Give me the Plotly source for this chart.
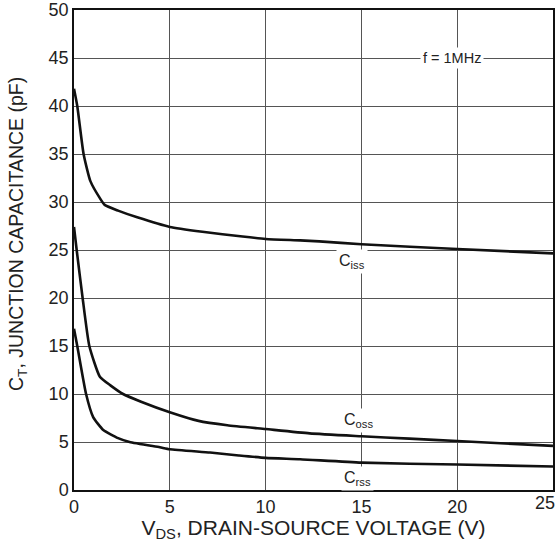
import plotly.graph_objects as go

# Data
vds_iss = [0, 0.17, 0.5, 0.85, 1.35, 1.6, 2.3, 3.3, 5, 6.7, 8.8, 10, 11.8, 12.8, 15, 20, 25]
c_iss = [41.8, 40, 35, 32.2, 30.4, 29.7, 29.1, 28.4, 27.4, 26.9, 26.4, 26.15, 26.0, 25.9, 25.6, 25.1, 24.65]

vds_oss = [0, 0.14, 0.45, 0.8, 1.35, 1.9, 2.56, 3.5, 5, 6.5, 8, 10, 12.3, 15, 17.5, 20, 25]
c_oss = [27.4, 25, 20, 15, 11.8, 10.9, 10, 9.2, 8.1, 7.2, 6.75, 6.35, 5.9, 5.6, 5.35, 5.1, 4.6]

vds_rss = [0, 0.17, 0.63, 1.0, 1.53, 2.3, 2.9, 4.48, 5, 7.1, 8.6, 10, 11.8, 15, 20, 25]
c_rss = [16.8, 15, 10, 7.6, 6.25, 5.4, 5.0, 4.45, 4.25, 3.9, 3.6, 3.35, 3.2, 2.85, 2.65, 2.45]

x_ticks = [0, 5, 10, 15, 20, 25]
y_ticks = [0, 5, 10, 15, 20, 25, 30, 35, 40, 45, 50]

labels = ["C<sub>iss</sub>", "C<sub>oss</sub>", "C<sub>rss</sub>", "f = 1MHz"]
label_x = [14.5, 14.85, 14.8, 19.75]
label_y = [23.85, 7.2, 1.15, 45.0]

x_title = "V<sub>DS</sub>, DRAIN-SOURCE VOLTAGE (V)"
y_title = "C<sub>T</sub>, JUNCTION CAPACITANCE (pF)"

FONT = "Liberation Sans, Arial, sans-serif"
TXT = "#222222"

fig = go.Figure()
for xs, ys in [(vds_iss, c_iss), (vds_oss, c_oss), (vds_rss, c_rss)]:
    fig.add_trace(go.Scatter(
        x=xs, y=ys, mode="lines",
        line=dict(color="#111111", width=2.6, shape="spline", smoothing=0.5),
        showlegend=False, hoverinfo="skip",
    ))

sizes = [16, 16, 16, 14.5]
for t, xv, yv, s in zip(labels, label_x, label_y, sizes):
    fig.add_annotation(
        x=xv, y=yv, text=t, showarrow=False,
        font=dict(family=FONT, size=s, color=TXT),
        bgcolor="white", borderpad=2,
    )

# last x tick label sits just inside the right edge, as in the reference
fig.add_annotation(
    x=x_ticks[-1], y=0, xref="x", yref="paper", text=str(x_ticks[-1]),
    showarrow=False, xanchor="center", yanchor="middle",
    xshift=-8, yshift=-12.5,
    font=dict(family=FONT, size=18, color=TXT),
)

# y-axis title, placed slightly above the axis centre as in the reference
fig.add_annotation(
    x=0, y=0.5, xref="paper", yref="paper", text=y_title,
    showarrow=False, textangle=-90, xanchor="center", yanchor="middle",
    xshift=-57, yshift=16,
    font=dict(family=FONT, size=19.5, color=TXT),
)

axis_common = dict(
    showgrid=True, gridcolor="#555555", gridwidth=1,
    showline=True, linecolor="#111111", linewidth=1.5, mirror=True,
    zeroline=False, ticks="", automargin=False, ticklabeloverflow="allow",
    tickfont=dict(family=FONT, size=18, color=TXT),
)

fig.update_xaxes(
    range=[0, 25], tickvals=x_ticks,
    ticktext=[str(v) for v in x_ticks[:-1]] + [""],
    title=dict(text=x_title, font=dict(family=FONT, size=21, color=TXT), standoff=0),
    **axis_common,
)
fig.update_yaxes(
    range=[0, 50], tickvals=y_ticks, ticktext=[str(v) for v in y_ticks],
    **axis_common,
)

fig.update_layout(
    width=560, height=542,
    margin=dict(l=74, r=7, t=10, b=52),
    paper_bgcolor="white", plot_bgcolor="white",
)

# remove the default page margin so the figure fills the window exactly
fig.write_html(
    "out.html",
    config={"displayModeBar": False},
    post_script="document.body.style.margin='0px';document.body.style.overflow='hidden';",
)
